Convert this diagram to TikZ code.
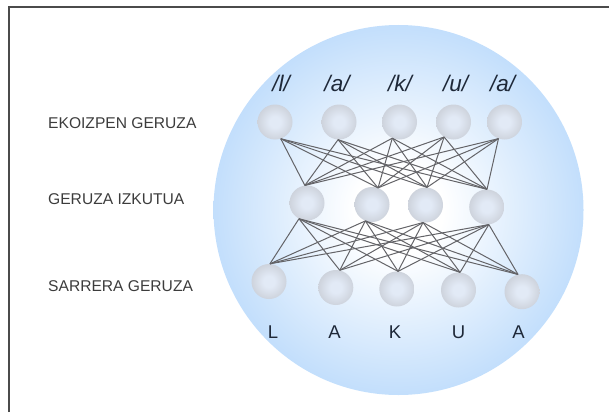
\documentclass[tikz,border=0pt]{standalone}
\usepackage{fontspec}
\setmainfont{Liberation Sans}
\usepackage{tikz}
\usetikzlibrary{positioning}

\definecolor{bubble}{RGB}{166,207,250}
\definecolor{cellgray}{RGB}{152,155,162}
\definecolor{cellmid}{RGB}{188,191,198}
\definecolor{celllit}{RGB}{226,234,246}
\definecolor{wire}{RGB}{100,100,104}
\definecolor{rim}{RGB}{75,75,75}
\definecolor{labelgray}{RGB}{60,60,60}
\definecolor{letterink}{RGB}{30,40,56}

% shadings for the big bubble and the spheres
\pgfdeclareradialshading{bubblefill}{\pgfpoint{0bp}{0bp}}{color(0bp)=(white); color(6bp)=(white); color(34bp)=(bubble); color(50bp)=(bubble)}
\pgfdeclareradialshading{spherefill}{\pgfpoint{0bp}{0bp}}{color(0bp)=(celllit); color(8bp)=(celllit); color(40bp)=(cellmid); color(50bp)=(cellgray); color(52bp)=(cellgray)}

\begin{document}
\begin{tikzpicture}[x=1pt,y=-1pt,
  cell/.style={circle, minimum size=35pt, inner sep=0pt, shading=spherefill},
  layername/.style={font=\fontsize{15.6}{18}\selectfont, text=labelgray, anchor=base west, inner sep=0pt},
  phoneme/.style={font=\fontsize{22.5}{26}\selectfont\itshape, text=letterink, anchor=base, inner sep=0pt},
  letter/.style={font=\fontsize{18.5}{22}\selectfont, text=letterink, anchor=base, inner sep=0pt},
  wire/.style={draw=wire, line width=1pt}]
\useasboundingbox (0,0) rectangle (609,412);

% frame
\draw[rim, line width=2pt] (8.5,412) -- (8.5,7.5) -- (609,7.5);

% bubble behind the network
\shade[shading=bubblefill] (398.5,210) circle (185);

% layer names
\node[layername] (lout) at (48,128) {EKOIZPEN GERUZA};
\node[layername] (lhid) at (48,204) {GERUZA IZKUTUA};
\node[layername] (lin) at (48,291.7) {SARRERA GERUZA};

% output layer
\node[cell] (t1) at (275,122) {};
\node[cell] (t2) at (339,122) {};
\node[cell] (t3) at (399.5,122) {};
\node[cell] (t4) at (453.5,122) {};
\node[cell] (t5) at (504.5,122) {};

% hidden layer
\node[cell] (h1) at (307,203) {};
\node[cell] (h2) at (372,204.5) {};
\node[cell] (h3) at (425.5,205) {};
\node[cell] (h4) at (486.7,207) {};

% input layer
\node[cell] (i1) at (269,281.5) {};
\node[cell] (i2) at (335.8,287.5) {};
\node[cell] (i3) at (396.8,289) {};
\node[cell] (i4) at (458.5,290) {};
\node[cell] (i5) at (522,291.7) {};

% phonemes on top
\node[phoneme] (p1) at (281,91.5) {/l/};
\node[phoneme] (p2) at (337,91.5) {/a/};
\node[phoneme] (p3) at (400,91.5) {/k/};
\node[phoneme] (p4) at (455.5,91.5) {/u/};
\node[phoneme] (p5) at (502.5,91.5) {/a/};

% letters below
\node[letter] (c1) at (273,338.3) {L};
\node[letter] (c2) at (334.5,338.3) {A};
\node[letter] (c3) at (395,338.3) {K};
\node[letter] (c4) at (458.5,338.3) {U};
\node[letter] (c5) at (518.5,338.3) {A};

% connections
\foreach \t/\ta in {t1/-71, t2/-93, t3/-114, t4/-122, t5/-110}
  \foreach \h/\ha in {h1/97, h2/70, h3/85, h4/89}
    \draw[wire] (\t.\ta) -- (\h.\ha);
\foreach \h/\ha in {h1/-117, h2/-112, h3/-98, h4/-83}
  \foreach \i/\ia in {i1/87, i2/77, i3/86, i4/85, i5/103}
    \draw[wire] (\h.\ha) -- (\i.\ia);
\end{tikzpicture}
\end{document}
